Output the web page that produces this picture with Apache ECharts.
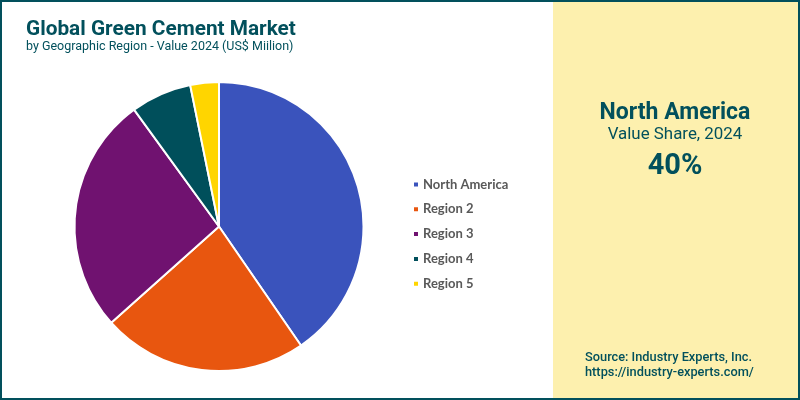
<!DOCTYPE html>
<html>
<head>
    <meta charset="utf-8">
    <title>Global Green Cement Market</title>
    <script src="https://cdn.jsdelivr.net/npm/echarts@6/dist/echarts.min.js"></script>
    <style>
        html, body { margin: 0; padding: 0; background: #fff; }
    </style>
</head>
<body>
<div id="main" style="width:800px; height:400px;"></div>
<script type="text/javascript">
    // chart data
    var regions = ['North America', 'Region 2', 'Region 3', 'Region 4', 'Region 5'];
    var shares = [40.4, 23, 26.6, 6.8, 3.2];
    var colors = ['#3A53BC', '#E8560F', '#701270', '#004F5B', '#FFD500'];

    var teal = '#02505C';
    var myChart = echarts.init(document.getElementById('main'));

    var pieData = [];
    for (var i = 0; i < regions.length; i++) {
        pieData.push({ name: regions[i], value: shares[i], itemStyle: { color: colors[i] } });
    }

    var option = {
        animation: false,
        backgroundColor: '#fff',
        title: [
            {
                text: 'Global Green Cement Market',
                left: 21, top: 14,
                textStyle: { fontFamily: 'Roboto', fontSize: 20.8, fontWeight: 'bold', color: teal }
            },
            {
                text: 'by Geographic Region - Value 2024 (US$ Miilion)',
                left: 21, top: 35,
                textStyle: { fontFamily: 'Roboto', fontSize: 12.5, fontWeight: 'normal', color: teal }
            }
        ],
        legend: {
            orient: 'vertical',
            left: 407, top: 172,
            icon: 'rect',
            itemWidth: 6, itemHeight: 6,
            itemGap: 9.8,
            data: regions,
            textStyle: { fontFamily: 'Lato', fontSize: 13, fontWeight: 'bold', color: '#595959', lineHeight: 15, padding: [0, 0, 0, -1] }
        },
        series: [
            {
                type: 'pie',
                center: [219, 226.5],
                radius: [0, 144.5],
                startAngle: 90,
                label: { show: false },
                labelLine: { show: false },
                silent: true,
                itemStyle: { borderColor: '#fff', borderWidth: 2 },
                data: pieData
            }
        ],
        graphic: [
            { type: 'rect', z: -1, shape: { x: 553, y: 0, width: 247, height: 400 }, style: { fill: '#FDF0AE' } },
            // frame around the picture
            { type: 'rect', z: 10, shape: { x: 1, y: 1, width: 798, height: 398 }, style: { fill: 'none', stroke: teal, lineWidth: 2 } },
            { type: 'text', z: 10, x: 675, y: 113, style: { text: 'North America', fontFamily: 'Roboto', fontSize: 23, fontWeight: 'bold', fill: teal, align: 'center', verticalAlign: 'middle' } },
            { type: 'text', z: 10, x: 675, y: 135, style: { text: 'Value Share, 2024', fontFamily: 'Roboto', fontSize: 16.9, fill: teal, align: 'center', verticalAlign: 'middle' } },
            { type: 'text', z: 10, x: 675, y: 167, style: { text: '40%', fontFamily: 'Roboto', fontSize: 29, fontWeight: 'bold', fill: teal, align: 'center', verticalAlign: 'middle' } },
            { type: 'text', z: 10, x: 585, y: 358, style: { text: 'Source: Industry Experts, Inc.', fontFamily: 'Roboto', fontSize: 12.8, fontWeight: 500, fill: teal, align: 'left', verticalAlign: 'middle' } },
            { type: 'text', z: 10, x: 585, y: 373, style: { text: 'https://industry-experts.com/', fontFamily: 'Roboto', fontSize: 12.8, fontWeight: 500, fill: teal, align: 'left', verticalAlign: 'middle' } }
        ]
    };
    myChart.setOption(option);
</script>
</body>
</html>
